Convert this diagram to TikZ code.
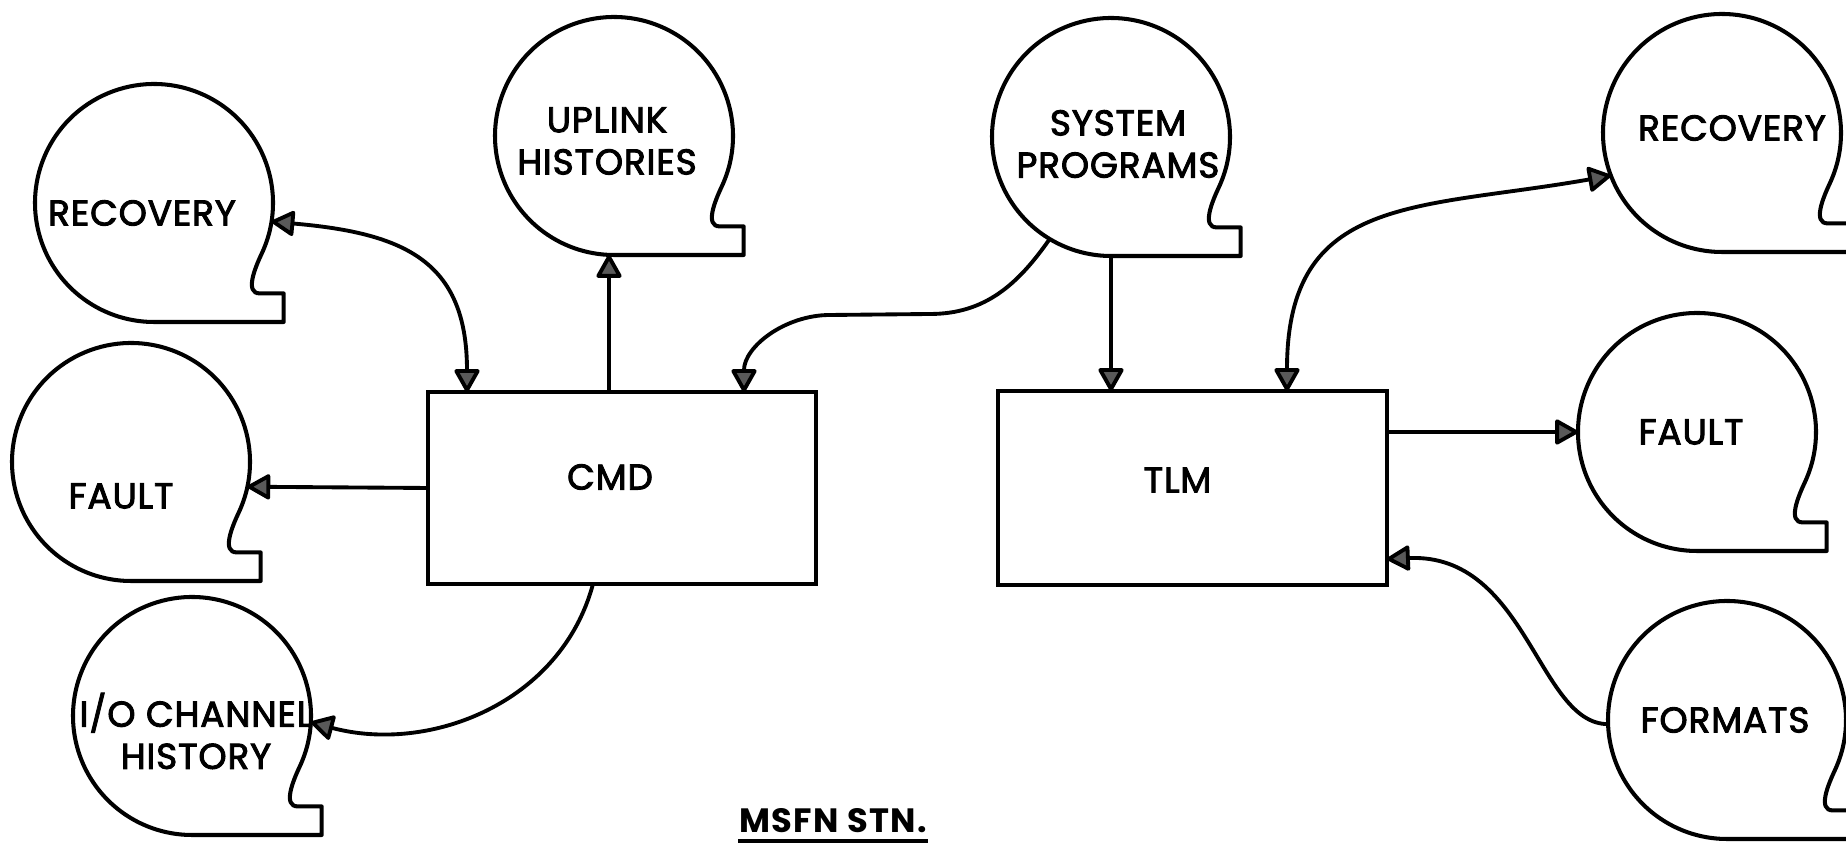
\documentclass[tikz,border=0pt]{standalone}
\usepackage{fontspec}
\setmainfont{Poppins}
\newfontfamily\labfont{Poppins}[FakeBold=2.6,LetterSpace=2.5]
\newfontfamily\titlefont{Poppins}[LetterSpace=4]
\usetikzlibrary{arrows.meta,calc}
\def\R{1.19cm}
\tikzset{
  outline/.style={draw=black, line width=1.15pt, line join=round},
  store/.style={circle, minimum size=2.38cm, inner sep=0pt, outer sep=0pt},
  box/.style={draw=black, line width=1.2pt, inner sep=0pt, outer sep=0pt},
  lbl/.style={align=center, font=\labfont\fontsize{10.2}{12}\selectfont},
  conn/.style={draw=black, line width=1.1pt,
    >={Triangle[round,width=0.27cm,length=0.25cm,fill=black!65]}}
}
\newcommand\storeoutline[1]{%
  \draw[outline] ($(#1.center)+(-25:\R)$) arc[start angle=-25,end angle=270,radius=\R]
    -- ++(1.09*\R,0) -- ++(0,0.24*\R) -- ++(-0.2*\R,0)
    to[out=180,in=-115] ($(#1.center)+(-25:\R)$) -- cycle;}
\begin{document}
\begin{tikzpicture}
\clip (0,0) rectangle (18.46,8.43);
\fill[white] (0,0) rectangle (18.46,8.43);

% storage nodes
\node[store, label={[lbl,shift={(-0.12,-0.10)}]center:RECOVERY}] (recL) at (1.54,6.40) {};
\node[store, label={[lbl,shift={(-0.10,-0.34)}]center:FAULT}] (faultL) at (1.31,3.81) {};
\node[store, label={[lbl,shift={(0.04,-0.15)}]center:{I/O CHANNEL\\HISTORY}}] (ioL) at (1.92,1.27) {};
\node[store, label={[lbl,shift={(-0.07,-0.05)}]center:{UPLINK\\HISTORIES}}] (uplink) at (6.14,7.07) {};
\node[store, label={[lbl,shift={(0.07,-0.07)}]center:{SYSTEM\\PROGRAMS}}] (sysprog) at (11.11,7.06) {};
\node[store, label={[lbl,shift={(0.10,0.05)}]center:RECOVERY}] (recR) at (17.22,7.10) {};
\node[store, label={[lbl,shift={(-0.06,0.0)}]center:FAULT}] (faultR) at (16.97,4.11) {};
\node[store, label={[lbl,shift={(-0.02,0.0)}]center:FORMATS}] (formats) at (17.27,1.23) {};

\foreach \n in {recL,faultL,ioL,uplink,sysprog,recR,faultR,formats}{\storeoutline{\n}}

% process boxes
\node[box, minimum width=3.88cm, minimum height=1.92cm,
      label={[lbl,shift={(-0.12,0.11)}]center:CMD}] (cmd) at (6.22,3.55) {};
\node[box, minimum width=3.89cm, minimum height=1.94cm,
      label={[lbl,shift={(-0.15,0.08)}]center:TLM}] (tlm) at (11.925,3.55) {};

% title
\node[font=\titlefont\bfseries\fontsize{9.6}{12}\selectfont, inner sep=0pt] (title) at (8.33,0.22) {MSFN STN.};
\draw[line width=0.9pt] (title.south west |- 0,0.02) -- (title.south east |- 0,0.02);

% connectors
\draw[conn,<->] (recL.-9) to[out=-5,in=90,looseness=1.3] ([xshift=0.39cm]cmd.north west);
\draw[conn,->] ([xshift=-0.13cm]cmd.north) -- ([xshift=-0.13cm]cmd.north |- uplink.south);
\draw[conn,->] (cmd.west) -- (faultL.-12.6);
\draw[conn,->] ([xshift=-0.29cm]cmd.south) to[out=-105,in=-15] (ioL.-3);
\coordinate (s1) at (9.3,5.29);
\coordinate (s2) at (8.3,5.28);
\draw[conn,->] (sysprog.-121) to[out=-125,in=0] (s1) -- (s2) to[out=180,in=90] ([xshift=-0.72cm]cmd.north east);
\draw[conn,->] (sysprog.south) -- (sysprog.south |- tlm.north);
\draw[conn,<->] ([xshift=2.89cm]tlm.north west) to[out=90,in=190,looseness=1.3] (recR.-159);
\draw[conn,->] (tlm.east |- faultR.west) -- (faultR.west);
\draw[conn,->] (formats.182) .. controls +(-0.7,0) and +(1.4,0.06) .. ([yshift=0.26cm]tlm.south east);
\end{tikzpicture}
\end{document}
